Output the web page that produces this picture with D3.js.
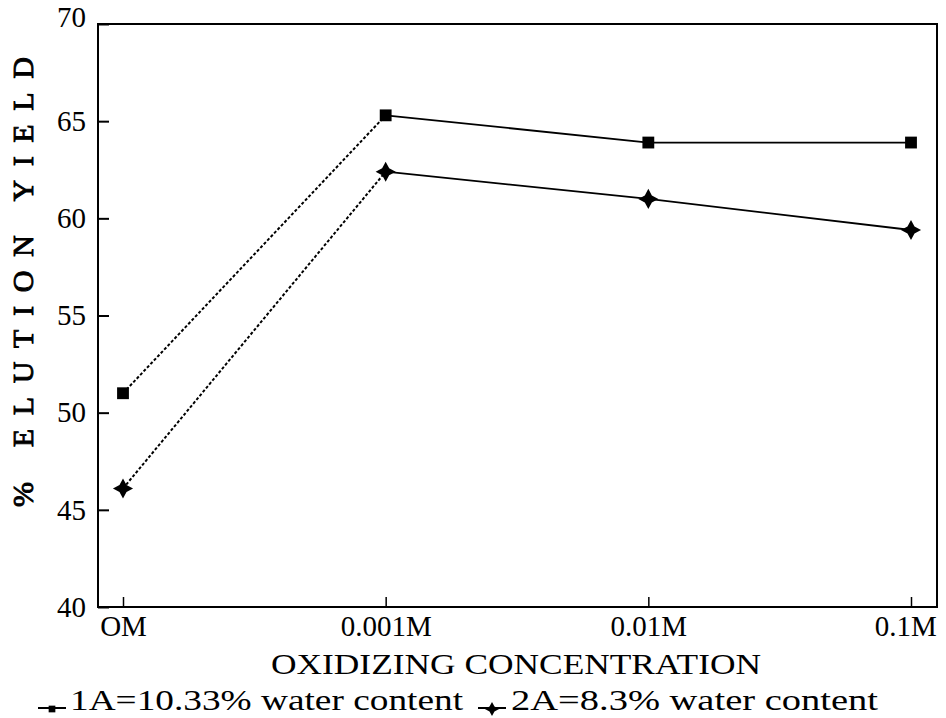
<!DOCTYPE html>
<html>
<head>
<meta charset="utf-8">
<script src="https://cdn.jsdelivr.net/npm/d3@7"></script>
<style>
  html, body { margin: 0; padding: 0; background: #fff; }
  svg { display: block; }
  text { font-family: "Liberation Serif", "DejaVu Serif", serif; fill: #000; }
</style>
</head>
<body>
<svg id="chart" width="946" height="718"></svg>
<script>
const categories = ["0M", "0.001M", "0.01M", "0.1M"];
const categoryLabels = ["OM", "0.001M", "0.01M", "0.1M"];
const series1 = [51.0, 65.3, 63.9, 63.9];
const series2 = [46.1, 62.4, 61.0, 59.4];
const seriesNames = ["1A=10.33% water content", "2A=8.3% water content"];
const yTicks = [40, 45, 50, 55, 60, 65, 70];

const svg = d3.select("#chart");
const plot = { left: 98, right: 937, top: 24, bottom: 607 };

const x = d3.scalePoint().domain(categories).range([123, 911]);
const y = d3.scaleLinear().domain([40, 70]).range([plot.bottom, plot.top]);

// 4-point star symbol
const star4 = {
  draw(ctx, size) {
    const r = Math.sqrt(size) * 0.75, k = r * 0.35;
    ctx.moveTo(0, -r); ctx.lineTo(k, -k); ctx.lineTo(r, 0); ctx.lineTo(k, k);
    ctx.lineTo(0, r); ctx.lineTo(-k, k); ctx.lineTo(-r, 0); ctx.lineTo(-k, -k);
    ctx.closePath();
  }
};

// frame
svg.append("rect")
  .attr("x", plot.left).attr("y", plot.top)
  .attr("width", plot.right - plot.left).attr("height", plot.bottom - plot.top)
  .attr("fill", "none").attr("stroke", "#000").attr("stroke-width", 2);

// y axis
const yAxis = d3.axisLeft(y).tickValues(yTicks).tickSize(-11).tickPadding(12)
  .tickFormat(d3.format("d"));
const gy = svg.append("g").attr("transform", `translate(${plot.left},0)`).call(yAxis);
gy.select(".domain").remove();
gy.selectAll(".tick line").attr("stroke", "#000").attr("stroke-width", 2);
gy.selectAll(".tick text").attr("font-size", 29).attr("fill", "#000")
  .attr("font-family", "Liberation Serif, serif");
gy.selectAll(".tick").filter(d => d === 70).select("text").attr("dy", "0.1em");

// x axis
const xAxis = d3.axisBottom(x).tickSize(-10).tickPadding(8)
  .tickFormat((d, i) => categoryLabels[i]);
const gx = svg.append("g").attr("transform", `translate(0,${plot.bottom})`).call(xAxis);
gx.select(".domain").remove();
gx.selectAll(".tick line").attr("stroke", "#000").attr("stroke-width", 1.5);
gx.selectAll(".tick text").attr("font-size", 29).attr("fill", "#000")
  .attr("font-family", "Liberation Serif, serif").attr("dy", "0.71em");
gx.selectAll(".tick").filter(d => d === "0.1M").select("text").attr("dx", "-0.2em");

// axis titles
svg.append("text")
  .attr("x", 516).attr("y", 674)
  .attr("text-anchor", "middle").attr("font-size", 30)
  .attr("textLength", 490).attr("lengthAdjust", "spacingAndGlyphs")
  .text("OXIDIZING CONCENTRATION");

svg.append("text")
  .attr("transform", "translate(33,282) rotate(-90)")
  .attr("text-anchor", "middle").attr("font-size", 30)
  .attr("font-family", "Liberation Serif, serif")
  .attr("textLength", 450).attr("lengthAdjust", "spacing")
  .attr("stroke", "#000").attr("stroke-width", 0.9).attr("fill", "#fff")
  .text("% ELUTION YIELD");

// lines
const lineGen = d3.line().x(d => x(categories[d.i])).y(d => y(d.v));
function drawSeries(vals) {
  const pts = vals.map((v, i) => ({ i, v }));
  svg.append("path").datum(pts.slice(0, 2))
    .attr("d", lineGen)
    .attr("fill", "none").attr("stroke", "#000").attr("stroke-width", 2)
    .attr("stroke-dasharray", "3,2");
  svg.append("path").datum(pts.slice(1))
    .attr("d", lineGen)
    .attr("fill", "none").attr("stroke", "#000").attr("stroke-width", 1.8);
  return pts;
}
const p1 = drawSeries(series1);
const p2 = drawSeries(series2);

svg.selectAll(".sq").data(p1).enter().append("path")
  .attr("transform", d => `translate(${x(categories[d.i])},${y(d.v)})`)
  .attr("d", d3.symbol().type(d3.symbolSquare).size(140))
  .attr("fill", "#000");

svg.selectAll(".dm").data(p2).enter().append("path")
  .attr("transform", d => `translate(${x(categories[d.i])},${y(d.v)})`)
  .attr("d", d3.symbol().type(star4).size(180))
  .attr("fill", "#000");

// legend
const leg = svg.append("g").attr("transform", "translate(0,700)");
const legItems = [
  { x0: 38, sym: d3.symbolSquare, size: 45, name: seriesNames[0], tx: 70, len: 393 },
  { x0: 478, sym: star4, size: 90, name: seriesNames[1], tx: 511, len: 367 }
];
legItems.forEach(it => {
  leg.append("line").attr("x1", it.x0).attr("x2", it.x0 + 28)
    .attr("y1", 8).attr("y2", 8).attr("stroke", "#000").attr("stroke-width", 2);
  leg.append("path").attr("transform", `translate(${it.x0 + 14},9)`)
    .attr("d", d3.symbol().type(it.sym).size(it.size)).attr("fill", "#000");
  leg.append("text").attr("x", it.tx).attr("y", 0).attr("dy", "0.35em")
    .attr("font-size", 29).attr("textLength", it.len).attr("lengthAdjust", "spacingAndGlyphs")
    .text(it.name);
});
</script>
</body>
</html>
